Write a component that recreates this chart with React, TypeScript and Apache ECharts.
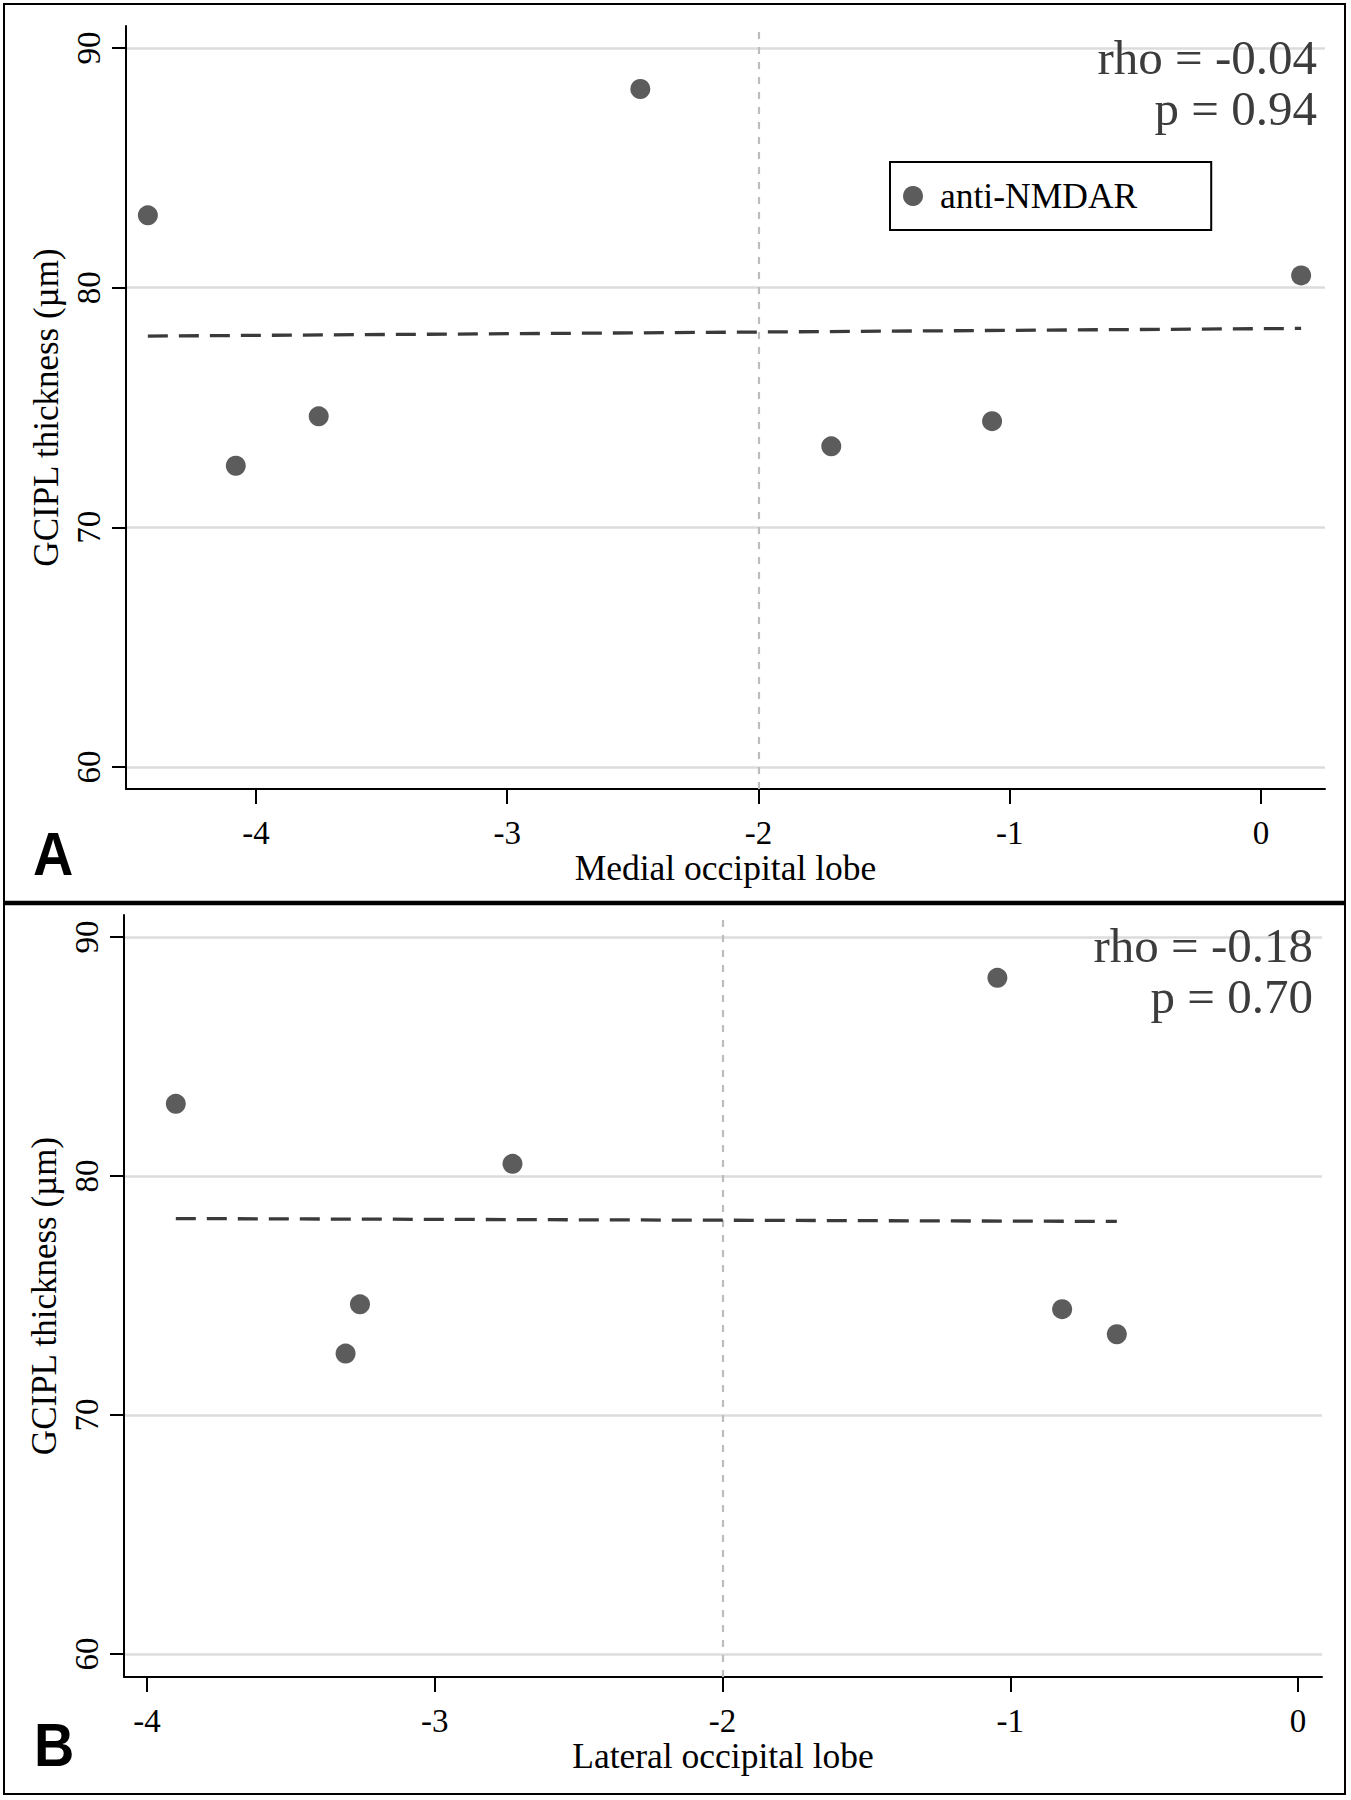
import React, { useEffect, useRef } from "react";
import * as echarts from "echarts";

// ---- data ----
const seriesName = "anti-NMDAR";
const yTitle = "GCIPL thickness (µm)";
const xTitles = ["Medial occipital lobe", "Lateral occipital lobe"];
const panelLabels = ["A", "B"];
const xTicks = [-4, -3, -2, -1, 0];
const yTicks = [60, 70, 80, 90];
const refX = -2;

// Panel A (medial occipital lobe)
const medialX = [-4.43, -4.08, -3.75, -2.47, -1.71, -1.07, 0.16];
const gciplA = [83.02, 72.57, 74.63, 88.29, 73.38, 74.43, 80.51];
const fitAX = [-4.43, 0.16];
const fitAY = [77.98, 78.3];
const statsA = ["rho = -0.04", "p = 0.94"];

// Panel B (lateral occipital lobe)
const lateralX = [-3.9, -3.31, -3.26, -2.73, -1.045, -0.82, -0.63];
const gciplB = [83.02, 72.57, 74.63, 80.51, 88.29, 74.43, 73.38];
const fitBX = [-3.9, -0.63];
const fitBY = [78.22, 78.1];
const statsB = ["rho = -0.18", "p = 0.70"];

const SERIF = '"Liberation Serif", "Times New Roman", serif';
const SANS = '"Liberation Sans", Arial, sans-serif';

const zip = (xs: number[], ys: number[]) => xs.map((x, i) => [x, ys[i]]);

function makeXAxis(gridIndex: number, min: number, max: number, title: string) {
  return {
    type: "value",
    gridIndex,
    min,
    max,
    axisLine: { show: true, onZero: false, lineStyle: { color: "#000", width: 2 } },
    axisTick: { show: true, length: 15, customValues: xTicks, lineStyle: { color: "#000", width: 2 } },
    axisLabel: { customValues: xTicks, margin: 27, fontFamily: SERIF, fontSize: 33, color: "#000" },
    splitLine: { show: false },
    name: title,
    nameLocation: "middle",
    nameGap: 61,
    nameTextStyle: { fontFamily: SERIF, fontSize: 35.5, color: "#000" },
  };
}

function makeYAxis(gridIndex: number, min: number, max: number, nameGap: number) {
  return {
    type: "value",
    gridIndex,
    min,
    max,
    axisLine: { show: true, onZero: false, lineStyle: { color: "#000", width: 2 } },
    axisTick: { show: true, length: 14, customValues: yTicks, lineStyle: { color: "#000", width: 2 } },
    axisLabel: { customValues: yTicks, rotate: 90, margin: 21, fontFamily: SERIF, fontSize: 33, color: "#000" },
    splitLine: { show: true, lineStyle: { color: "#dcdcdc", width: 2.5 } },
    name: yTitle,
    nameLocation: "middle",
    nameRotate: 90,
    nameGap,
    nameTextStyle: { fontFamily: SERIF, fontSize: 35, color: "#000" },
  };
}

function fitSeries(idx: number, xs: number[], ys: number[]) {
  return {
    name: "fit" + idx,
    type: "line",
    xAxisIndex: idx,
    yAxisIndex: idx,
    data: zip(xs, ys),
    symbol: "none",
    silent: true,
    lineStyle: { color: "#3a3a3a", width: 3.3, type: [20, 11] },
    z: 3,
    markLine: {
      silent: true,
      symbol: ["none", "none"],
      label: { show: false },
      lineStyle: { color: "#bdbdbd", width: 2.2, type: [7, 8] },
      data: [{ xAxis: refX }],
      z: 2,
    },
  };
}

function scatterSeries(idx: number, xs: number[], ys: number[]) {
  return {
    name: seriesName,
    type: "scatter",
    xAxisIndex: idx,
    yAxisIndex: idx,
    data: zip(xs, ys),
    symbol: "circle",
    symbolSize: 20,
    itemStyle: { color: "#333333" },
    z: 4,
  };
}

function statText(lines: string[], right: number, y0: number, y1: number) {
  return lines.map((t, i) => ({
    type: "text",
    x: right,
    y: i === 0 ? y0 : y1,
    silent: true,
    style: { text: t, font: `49px ${SERIF}`, fill: "#3c3c3c", align: "right", verticalAlign: "middle" },
    z: 10,
  }));
}

export default function App() {
  const ref = useRef<HTMLDivElement>(null);

  useEffect(() => {
    if (!ref.current) return;
    const chart = echarts.init(ref.current, undefined, { renderer: "svg" });
    const option: any = {
      animation: false,
      backgroundColor: "#fff",
      grid: [
        { left: 126, top: 26, width: 1199, height: 763, containLabel: false, outerBoundsMode: "none" },
        { left: 124, top: 915, width: 1198, height: 762, containLabel: false, outerBoundsMode: "none" },
      ],
      xAxis: [
        makeXAxis(0, -4.517, 0.255, xTitles[0]),
        makeXAxis(1, -4.08, 0.083, xTitles[1]),
      ],
      yAxis: [makeYAxis(0, 59.08, 90.92, 62), makeYAxis(1, 59.04, 90.92, 60)],
      legend: {
        data: [seriesName],
        left: 890,
        top: 162,
        orient: "horizontal",
        icon: "circle",
        itemWidth: 44,
        itemHeight: 20,
        symbolKeepAspect: true,
        padding: [16, 74, 16, 13],
        borderColor: "#000",
        borderWidth: 2,
        selectedMode: false,
        textStyle: { fontFamily: SERIF, fontSize: 35.5, lineHeight: 34, color: "#000" },
      },
      series: [
        fitSeries(0, fitAX, fitAY),
        fitSeries(1, fitBX, fitBY),
        scatterSeries(0, medialX, gciplA),
        scatterSeries(1, lateralX, gciplB),
      ],
      graphic: [
        {
          type: "rect",
          silent: true,
          shape: { x: 4, y: 4, width: 1341, height: 1790 },
          style: { fill: "none", stroke: "#000", lineWidth: 2 },
        },
        {
          type: "line",
          silent: true,
          shape: { x1: 4, y1: 903, x2: 1345, y2: 903 },
          style: { stroke: "#000", lineWidth: 4.5 },
        },
        {
          type: "text",
          x: 33,
          y: 853,
          scaleX: 0.9,
          silent: true,
          style: { text: panelLabels[0], font: `bold 62px ${SANS}`, fill: "#000", align: "left", verticalAlign: "middle" },
        },
        {
          type: "text",
          x: 34,
          y: 1744,
          scaleX: 0.9,
          silent: true,
          style: { text: panelLabels[1], font: `bold 62px ${SANS}`, fill: "#000", align: "left", verticalAlign: "middle" },
        },
        ...statText(statsA, 1317, 57, 108),
        ...statText(statsB, 1313, 945, 996),
      ],
    };
    chart.setOption(option);
    return () => chart.dispose();
  }, []);

  return (
    <div
      ref={ref}
      style={{ position: "absolute", left: 0, top: 0, width: "1351px", height: "1800px", background: "#fff" }}
    />
  );
}
